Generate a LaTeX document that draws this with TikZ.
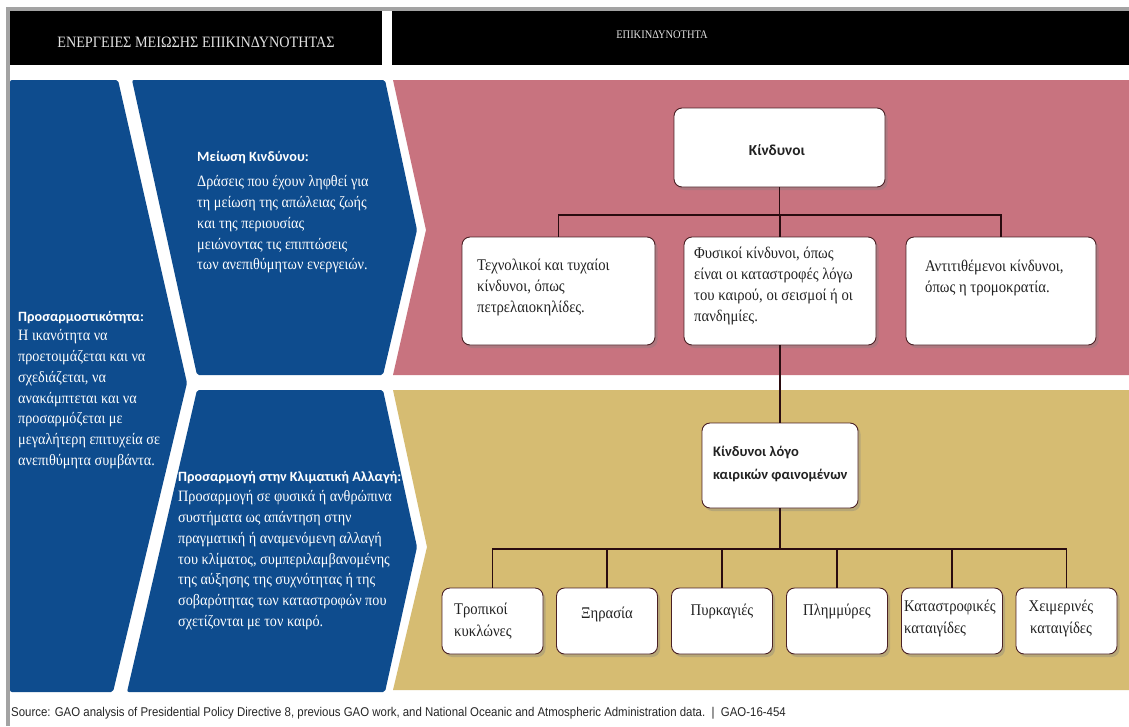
\documentclass[tikz,border=0pt]{standalone}
\usepackage{fontspec}
\setmainfont{Liberation Serif}
\newfontfamily\srf[FakeStretch=0.9]{Liberation Serif}
\newfontfamily\calf{Carlito}
\newfontfamily\narrowf[FakeStretch=0.9]{Liberation Sans}
\usetikzlibrary{shadows}
\definecolor{bordergrey}{HTML}{A3A3A3}
\definecolor{bluep}{HTML}{0E4C8E}
\definecolor{pinkp}{HTML}{C8737F}
\definecolor{goldp}{HTML}{D6BC72}
\definecolor{hdrtxt}{HTML}{E2E2E2}
\definecolor{boxline}{HTML}{4A2025}
\definecolor{conncol}{HTML}{2A0C10}
\definecolor{boxtxt}{HTML}{222222}
\tikzset{
  hdr/.style={text=hdrtxt, inner sep=0pt},
  whitetxt/.style={text=white, inner sep=0pt, align=left},
  headtxt/.style={text=white, inner sep=0pt, font=\calf\bfseries\fontsize{14.2}{17}\selectfont},
  bodytxt/.style={whitetxt, font=\srf\fontsize{15.8}{20.9}\selectfont},
  hbox/.style={draw=boxline, line width=0.9pt, fill=white, rounded corners=8pt,
    drop shadow={opacity=0.35, shadow xshift=2.5pt, shadow yshift=-3pt}, inner sep=0pt},
  boxtext/.style={text=boxtxt, inner sep=0pt, align=left, font=\srf\fontsize{16.3}{21}\selectfont},
  smalltext/.style={text=boxtxt, inner sep=0pt, align=left, font=\srf\fontsize{16.3}{22}\selectfont},
  conn/.style={draw=conncol, line width=1.8pt},
}
\begin{document}
\begin{tikzpicture}[x=1pt,y=-1pt]
\useasboundingbox (0,0) rectangle (1129,726);
\fill[white] (0,0) rectangle (1129,726);
% grey frame
\fill[bordergrey] (6,7) rectangle (1129,11);
\fill[bordergrey] (6,7) rectangle (10,726);
% header bars
\fill[black] (10,11) rectangle (382,65);
\fill[black] (392,11) rectangle (1129,65);
\node[hdr, font=\srf\fontsize{15.8}{18}\selectfont] (h1) at (196,42) {ΕΝΕΡΓΕΙΕΣ ΜΕΙΩΣΗΣ ΕΠΙΚΙΝΔΥΝΟΤΗΤΑΣ};
\node[hdr, font=\srf\fontsize{11.6}{13}\selectfont] (h2) at (662,35) {ΕΠΙΚΙΝΔΥΝΟΤΗΤΑ};
% coloured bands
\fill[pinkp] (393,80) -- (1129,80) -- (1129,375) -- (393,375) -- (426,230) -- cycle;
\fill[goldp] (393,390) -- (1129,390) -- (1129,690) -- (393,690) -- (427,547) -- cycle;
% blue panels
\fill[bluep, rounded corners=2pt] (10,80) -- (118,80) -- (187,383) -- (113,692) -- (10,692) -- cycle;
\fill[bluep, rounded corners=2pt] (132,80) -- (385,80) -- (417,230) -- (383,375) -- (197,375) -- cycle;
\fill[bluep, rounded corners=2pt] (197,390) -- (383,390) -- (417,547) -- (385,692) -- (127,692) -- cycle;
% blue panel texts
\node[headtxt, anchor=west] (t1h) at (197,158) {Μείωση Κινδύνου:};
\node[bodytxt, anchor=north west] (t1b) at (197,175) {Δράσεις που έχουν ληφθεί για\\τη μείωση της απώλειας ζωής\\και της περιουσίας\\μειώνοντας τις επιπτώσεις\\των ανεπιθύμητων ενεργειών.};
\node[headtxt, anchor=west] (t2h) at (18,318) {Προσαρμοστικότητα:};
\node[bodytxt, anchor=north west] (t2b) at (18,329) {Η ικανότητα να\\προετοιμάζεται και να\\σχεδιάζεται, να\\ανακάμπτεται και να\\προσαρμόζεται με\\μεγαλήτερη επιτυχεία σε\\ανεπιθύμητα συμβάντα.};
\node[headtxt, anchor=west] (t3h) at (178,478) {Προσαρμογή στην Κλιματική Αλλαγή:};
\node[bodytxt, anchor=north west] (t3b) at (178,490) {Προσαρμογή σε φυσικά ή ανθρώπινα\\συστήματα ως απάντηση στην\\πραγματική ή αναμενόμενη αλλαγή\\του κλίματος, συμπεριλαμβανομένης\\της αύξησης της συχνότητας ή της\\σοβαρότητας των καταστροφών που\\σχετίζονται με τον καιρό.};
% hazard boxes (top)
\node[hbox, minimum width=211pt, minimum height=79pt] (k) at (779.5,147.5) {};
\node[text=boxtxt, inner sep=0pt, font=\calf\bfseries\fontsize{15.3}{17}\selectfont] (kt) at (777,150) {Κίνδυνοι};
\node[hbox, minimum width=193pt, minimum height=108pt] (r1) at (558.5,291) {};
\node[hbox, minimum width=192pt, minimum height=108pt] (r2) at (780,291) {};
\node[hbox, minimum width=190pt, minimum height=108pt] (r3) at (1001,291) {};
\node[boxtext, anchor=north west] (r1t) at (477,259) {Τεχνολικοί και τυχαίοι\\κίνδυνοι, όπως\\πετρελαιοκηλίδες.};
\node[boxtext, anchor=north west] (r2t) at (694,247) {Φυσικοί κίνδυνοι, όπως\\είναι οι καταστροφές λόγω\\του καιρού, οι σεισμοί ή οι\\πανδημίες.};
\node[boxtext, anchor=north west] (r3t) at (925,260) {Αντιτιθέμενοι κίνδυνοι,\\όπως η τρομοκρατία.};
% weather box
\node[hbox, minimum width=156pt, minimum height=85pt] (w) at (780,465.5) {};
\node[text=boxtxt, inner sep=0pt, align=left, anchor=north west, font=\calf\bfseries\fontsize{14.5}{23}\selectfont] (wt) at (713,446) {Κίνδυνοι λόγο\\καιρικών φαινομένων};
% bottom boxes
\node[hbox, minimum width=101pt, minimum height=66pt] (b1) at (492.5,621) {};
\node[hbox, minimum width=101pt, minimum height=66pt] (b2) at (607,621) {};
\node[hbox, minimum width=101pt, minimum height=66pt] (b3) at (722,621) {};
\node[hbox, minimum width=101pt, minimum height=66pt] (b4) at (837,621) {};
\node[hbox, minimum width=101pt, minimum height=66pt] (b5) at (952,621) {};
\node[hbox, minimum width=101pt, minimum height=66pt] (b6) at (1066.5,621) {};
\node[smalltext, anchor=north west] (b1t) at (454,603) {Τροπικοί\\κυκλώνες};
\node[smalltext] (b2t) at (607,614) {Ξηρασία};
\node[smalltext] (b3t) at (722,611) {Πυρκαγιές};
\node[smalltext] (b4t) at (837,611) {Πλημμύρες};
\node[smalltext, anchor=north west] (b5t) at (904,600) {Καταστροφικές\\καταιγίδες};
\node[smalltext, anchor=north, align=center] (b6t) at (1061,600) {Χειμερινές\\καταιγίδες};
% connectors
\coordinate (bus1) at (780,215);
\coordinate (bus2) at (780,549);
\draw[conn] (k.south) -- (k.south |- bus1);
\draw[conn] (r1.north) |- (r3.north |- bus1) -- (r3.north);
\draw[conn] (r2.north) -- (r2.north |- bus1);
\draw[conn] (r2.south) -- (w.north);
\draw[conn] (w.south) -- (bus2);
\draw[conn] (b1.north) |- (b6.north |- bus2) -- (b6.north);
\draw[conn] (b2.north) -- (b2.north |- bus2);
\draw[conn] (b3.north) -- (b3.north |- bus2);
\draw[conn] (b4.north) -- (b4.north |- bus2);
\draw[conn] (b5.north) -- (b5.north |- bus2);
% footer
\node[anchor=west, inner sep=0pt, text=black!85, font=\narrowf\fontsize{12.7}{14}\selectfont] (src) at (11,713) {Source: GAO analysis of Presidential Policy Directive 8, previous GAO work, and National Oceanic and Atmospheric Administration data.\ \ |\ \ GAO-16-454};
\end{tikzpicture}
\end{document}
